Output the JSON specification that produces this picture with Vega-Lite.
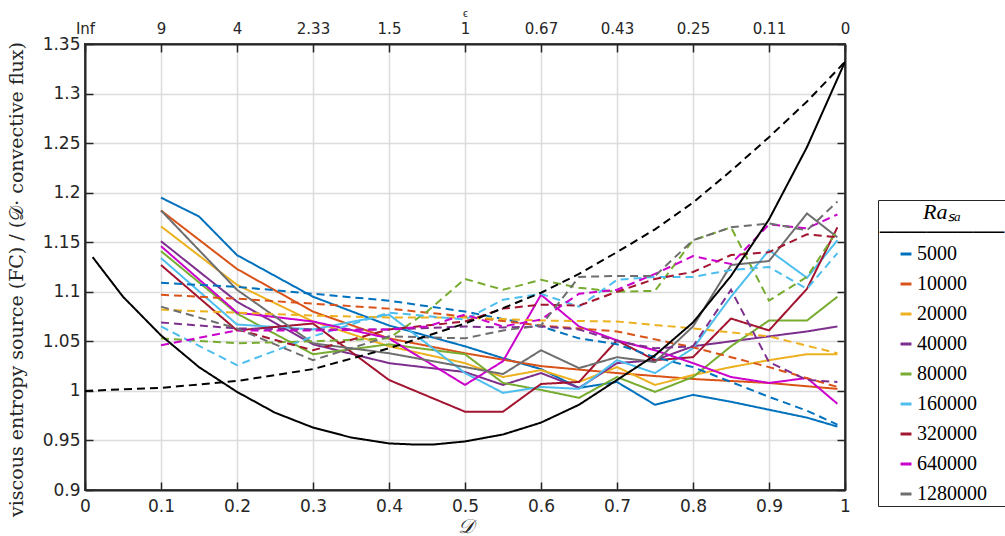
{
  "$schema": "https://vega.github.io/schema/vega-lite/v6.json",
  "width": 760,
  "height": 446,
  "autosize": {"type": "none"},
  "padding": {"left": 85, "top": 44, "right": 160, "bottom": 46},
  "background": "white",
  "config": {
    "view": {"stroke": "#262626", "strokeWidth": 2},
    "axis": {
      "domainColor": "#262626", "domainWidth": 2,
      "tickColor": "#262626", "tickWidth": 1.5, "tickSize": -8,
      "labelFont": "DejaVu Sans", "labelFontSize": 17, "labelColor": "#262626",
      "labelFlush": false, "labelOverlap": false,
      "gridColor": "#dcdcdc", "gridWidth": 1.5,
      "titleColor": "#262626", "titleFontWeight": "normal"
    }
  },
  "datasets": {
    "series": [
      {"ra":"5000","s":"solid","x":0.1,"y":1.195},{"ra":"5000","s":"solid","x":0.15,"y":1.176},{"ra":"5000","s":"solid","x":0.2,"y":1.137},{"ra":"5000","s":"solid","x":0.3,"y":1.095},{"ra":"5000","s":"solid","x":0.4,"y":1.066},{"ra":"5000","s":"solid","x":0.5,"y":1.045},{"ra":"5000","s":"solid","x":0.55,"y":1.033},{"ra":"5000","s":"solid","x":0.6,"y":1.022},{"ra":"5000","s":"solid","x":0.65,"y":1.003},{"ra":"5000","s":"solid","x":0.7,"y":1.009},{"ra":"5000","s":"solid","x":0.75,"y":0.986},{"ra":"5000","s":"solid","x":0.8,"y":0.996},{"ra":"5000","s":"solid","x":0.85,"y":0.989},{"ra":"5000","s":"solid","x":0.9,"y":0.981},{"ra":"5000","s":"solid","x":0.95,"y":0.973},{"ra":"5000","s":"solid","x":0.99,"y":0.964},
      {"ra":"10000","s":"solid","x":0.1,"y":1.182},{"ra":"10000","s":"solid","x":0.2,"y":1.123},{"ra":"10000","s":"solid","x":0.3,"y":1.08},{"ra":"10000","s":"solid","x":0.4,"y":1.053},{"ra":"10000","s":"solid","x":0.5,"y":1.038},{"ra":"10000","s":"solid","x":0.6,"y":1.025},{"ra":"10000","s":"solid","x":0.7,"y":1.018},{"ra":"10000","s":"solid","x":0.8,"y":1.012},{"ra":"10000","s":"solid","x":0.9,"y":1.008},{"ra":"10000","s":"solid","x":0.99,"y":1.002},
      {"ra":"20000","s":"solid","x":0.1,"y":1.166},{"ra":"20000","s":"solid","x":0.2,"y":1.107},{"ra":"20000","s":"solid","x":0.3,"y":1.07},{"ra":"20000","s":"solid","x":0.4,"y":1.045},{"ra":"20000","s":"solid","x":0.5,"y":1.028},{"ra":"20000","s":"solid","x":0.55,"y":1.014},{"ra":"20000","s":"solid","x":0.6,"y":1.021},{"ra":"20000","s":"solid","x":0.65,"y":1.009},{"ra":"20000","s":"solid","x":0.7,"y":1.024},{"ra":"20000","s":"solid","x":0.75,"y":1.006},{"ra":"20000","s":"solid","x":0.8,"y":1.016},{"ra":"20000","s":"solid","x":0.85,"y":1.024},{"ra":"20000","s":"solid","x":0.9,"y":1.031},{"ra":"20000","s":"solid","x":0.95,"y":1.037},{"ra":"20000","s":"solid","x":0.99,"y":1.037},
      {"ra":"40000","s":"solid","x":0.1,"y":1.151},{"ra":"40000","s":"solid","x":0.2,"y":1.09},{"ra":"40000","s":"solid","x":0.3,"y":1.047},{"ra":"40000","s":"solid","x":0.4,"y":1.028},{"ra":"40000","s":"solid","x":0.5,"y":1.019},{"ra":"40000","s":"solid","x":0.55,"y":1.006},{"ra":"40000","s":"solid","x":0.6,"y":1.018},{"ra":"40000","s":"solid","x":0.65,"y":1.003},{"ra":"40000","s":"solid","x":0.7,"y":1.028},{"ra":"40000","s":"solid","x":0.75,"y":1.031},{"ra":"40000","s":"solid","x":0.8,"y":1.045},{"ra":"40000","s":"solid","x":0.85,"y":1.05},{"ra":"40000","s":"solid","x":0.9,"y":1.055},{"ra":"40000","s":"solid","x":0.95,"y":1.06},{"ra":"40000","s":"solid","x":0.99,"y":1.065},
      {"ra":"80000","s":"solid","x":0.1,"y":1.141},{"ra":"80000","s":"solid","x":0.2,"y":1.078},{"ra":"80000","s":"solid","x":0.3,"y":1.037},{"ra":"80000","s":"solid","x":0.4,"y":1.047},{"ra":"80000","s":"solid","x":0.5,"y":1.037},{"ra":"80000","s":"solid","x":0.55,"y":1.008},{"ra":"80000","s":"solid","x":0.6,"y":1.001},{"ra":"80000","s":"solid","x":0.65,"y":0.993},{"ra":"80000","s":"solid","x":0.7,"y":1.014},{"ra":"80000","s":"solid","x":0.75,"y":0.999},{"ra":"80000","s":"solid","x":0.8,"y":1.014},{"ra":"80000","s":"solid","x":0.85,"y":1.045},{"ra":"80000","s":"solid","x":0.9,"y":1.071},{"ra":"80000","s":"solid","x":0.95,"y":1.071},{"ra":"80000","s":"solid","x":0.99,"y":1.095},
      {"ra":"160000","s":"solid","x":0.1,"y":1.134},{"ra":"160000","s":"solid","x":0.2,"y":1.067},{"ra":"160000","s":"solid","x":0.3,"y":1.062},{"ra":"160000","s":"solid","x":0.4,"y":1.077},{"ra":"160000","s":"solid","x":0.5,"y":1.018},{"ra":"160000","s":"solid","x":0.55,"y":0.998},{"ra":"160000","s":"solid","x":0.6,"y":1.004},{"ra":"160000","s":"solid","x":0.65,"y":1.002},{"ra":"160000","s":"solid","x":0.7,"y":1.031},{"ra":"160000","s":"solid","x":0.75,"y":1.018},{"ra":"160000","s":"solid","x":0.8,"y":1.043},{"ra":"160000","s":"solid","x":0.85,"y":1.095},{"ra":"160000","s":"solid","x":0.9,"y":1.142},{"ra":"160000","s":"solid","x":0.95,"y":1.114},{"ra":"160000","s":"solid","x":0.99,"y":1.152},
      {"ra":"320000","s":"solid","x":0.1,"y":1.127},{"ra":"320000","s":"solid","x":0.2,"y":1.061},{"ra":"320000","s":"solid","x":0.3,"y":1.068},{"ra":"320000","s":"solid","x":0.4,"y":1.011},{"ra":"320000","s":"solid","x":0.5,"y":0.979},{"ra":"320000","s":"solid","x":0.55,"y":0.979},{"ra":"320000","s":"solid","x":0.6,"y":1.007},{"ra":"320000","s":"solid","x":0.65,"y":1.009},{"ra":"320000","s":"solid","x":0.7,"y":1.051},{"ra":"320000","s":"solid","x":0.75,"y":1.031},{"ra":"320000","s":"solid","x":0.8,"y":1.034},{"ra":"320000","s":"solid","x":0.85,"y":1.073},{"ra":"320000","s":"solid","x":0.9,"y":1.061},{"ra":"320000","s":"solid","x":0.95,"y":1.103},{"ra":"320000","s":"solid","x":0.99,"y":1.165},
      {"ra":"640000","s":"solid","x":0.1,"y":1.146},{"ra":"640000","s":"solid","x":0.2,"y":1.079},{"ra":"640000","s":"solid","x":0.3,"y":1.07},{"ra":"640000","s":"solid","x":0.4,"y":1.053},{"ra":"640000","s":"solid","x":0.5,"y":1.006},{"ra":"640000","s":"solid","x":0.55,"y":1.03},{"ra":"640000","s":"solid","x":0.6,"y":1.097},{"ra":"640000","s":"solid","x":0.65,"y":1.065},{"ra":"640000","s":"solid","x":0.7,"y":1.051},{"ra":"640000","s":"solid","x":0.75,"y":1.041},{"ra":"640000","s":"solid","x":0.8,"y":1.028},{"ra":"640000","s":"solid","x":0.85,"y":1.014},{"ra":"640000","s":"solid","x":0.9,"y":1.008},{"ra":"640000","s":"solid","x":0.95,"y":1.013},{"ra":"640000","s":"solid","x":0.99,"y":0.987},
      {"ra":"1280000","s":"solid","x":0.1,"y":1.182},{"ra":"1280000","s":"solid","x":0.2,"y":1.102},{"ra":"1280000","s":"solid","x":0.3,"y":1.048},{"ra":"1280000","s":"solid","x":0.4,"y":1.038},{"ra":"1280000","s":"solid","x":0.5,"y":1.024},{"ra":"1280000","s":"solid","x":0.55,"y":1.017},{"ra":"1280000","s":"solid","x":0.6,"y":1.041},{"ra":"1280000","s":"solid","x":0.65,"y":1.023},{"ra":"1280000","s":"solid","x":0.7,"y":1.034},{"ra":"1280000","s":"solid","x":0.75,"y":1.029},{"ra":"1280000","s":"solid","x":0.8,"y":1.065},{"ra":"1280000","s":"solid","x":0.85,"y":1.127},{"ra":"1280000","s":"solid","x":0.9,"y":1.131},{"ra":"1280000","s":"solid","x":0.95,"y":1.179},{"ra":"1280000","s":"solid","x":0.99,"y":1.155},
      {"ra":"5000","s":"dashed","x":0.1,"y":1.109},{"ra":"5000","s":"dashed","x":0.2,"y":1.105},{"ra":"5000","s":"dashed","x":0.3,"y":1.098},{"ra":"5000","s":"dashed","x":0.4,"y":1.091},{"ra":"5000","s":"dashed","x":0.5,"y":1.08},{"ra":"5000","s":"dashed","x":0.6,"y":1.065},{"ra":"5000","s":"dashed","x":0.65,"y":1.053},{"ra":"5000","s":"dashed","x":0.7,"y":1.047},{"ra":"5000","s":"dashed","x":0.75,"y":1.034},{"ra":"5000","s":"dashed","x":0.8,"y":1.024},{"ra":"5000","s":"dashed","x":0.85,"y":1.009},{"ra":"5000","s":"dashed","x":0.9,"y":0.994},{"ra":"5000","s":"dashed","x":0.95,"y":0.98},{"ra":"5000","s":"dashed","x":0.99,"y":0.966},
      {"ra":"10000","s":"dashed","x":0.1,"y":1.097},{"ra":"10000","s":"dashed","x":0.2,"y":1.093},{"ra":"10000","s":"dashed","x":0.3,"y":1.088},{"ra":"10000","s":"dashed","x":0.4,"y":1.083},{"ra":"10000","s":"dashed","x":0.5,"y":1.075},{"ra":"10000","s":"dashed","x":0.6,"y":1.066},{"ra":"10000","s":"dashed","x":0.7,"y":1.06},{"ra":"10000","s":"dashed","x":0.8,"y":1.044},{"ra":"10000","s":"dashed","x":0.85,"y":1.034},{"ra":"10000","s":"dashed","x":0.9,"y":1.024},{"ra":"10000","s":"dashed","x":0.99,"y":1.004},
      {"ra":"20000","s":"dashed","x":0.1,"y":1.082},{"ra":"20000","s":"dashed","x":0.2,"y":1.079},{"ra":"20000","s":"dashed","x":0.3,"y":1.076},{"ra":"20000","s":"dashed","x":0.4,"y":1.074},{"ra":"20000","s":"dashed","x":0.5,"y":1.074},{"ra":"20000","s":"dashed","x":0.6,"y":1.071},{"ra":"20000","s":"dashed","x":0.7,"y":1.07},{"ra":"20000","s":"dashed","x":0.8,"y":1.063},{"ra":"20000","s":"dashed","x":0.9,"y":1.055},{"ra":"20000","s":"dashed","x":0.99,"y":1.038},
      {"ra":"40000","s":"dashed","x":0.1,"y":1.069},{"ra":"40000","s":"dashed","x":0.2,"y":1.063},{"ra":"40000","s":"dashed","x":0.3,"y":1.062},{"ra":"40000","s":"dashed","x":0.4,"y":1.062},{"ra":"40000","s":"dashed","x":0.5,"y":1.065},{"ra":"40000","s":"dashed","x":0.55,"y":1.064},{"ra":"40000","s":"dashed","x":0.6,"y":1.065},{"ra":"40000","s":"dashed","x":0.65,"y":1.062},{"ra":"40000","s":"dashed","x":0.7,"y":1.05},{"ra":"40000","s":"dashed","x":0.75,"y":1.043},{"ra":"40000","s":"dashed","x":0.8,"y":1.045},{"ra":"40000","s":"dashed","x":0.85,"y":1.102},{"ra":"40000","s":"dashed","x":0.9,"y":1.029},{"ra":"40000","s":"dashed","x":0.95,"y":1.011},{"ra":"40000","s":"dashed","x":0.99,"y":1.009},
      {"ra":"80000","s":"dashed","x":0.1,"y":1.053},{"ra":"80000","s":"dashed","x":0.2,"y":1.048},{"ra":"80000","s":"dashed","x":0.3,"y":1.05},{"ra":"80000","s":"dashed","x":0.4,"y":1.053},{"ra":"80000","s":"dashed","x":0.45,"y":1.08},{"ra":"80000","s":"dashed","x":0.5,"y":1.113},{"ra":"80000","s":"dashed","x":0.55,"y":1.102},{"ra":"80000","s":"dashed","x":0.6,"y":1.112},{"ra":"80000","s":"dashed","x":0.65,"y":1.104},{"ra":"80000","s":"dashed","x":0.7,"y":1.1},{"ra":"80000","s":"dashed","x":0.75,"y":1.101},{"ra":"80000","s":"dashed","x":0.8,"y":1.152},{"ra":"80000","s":"dashed","x":0.85,"y":1.165},{"ra":"80000","s":"dashed","x":0.9,"y":1.091},{"ra":"80000","s":"dashed","x":0.95,"y":1.115},{"ra":"80000","s":"dashed","x":0.99,"y":1.162},
      {"ra":"160000","s":"dashed","x":0.1,"y":1.065},{"ra":"160000","s":"dashed","x":0.2,"y":1.026},{"ra":"160000","s":"dashed","x":0.3,"y":1.055},{"ra":"160000","s":"dashed","x":0.4,"y":1.079},{"ra":"160000","s":"dashed","x":0.5,"y":1.072},{"ra":"160000","s":"dashed","x":0.55,"y":1.092},{"ra":"160000","s":"dashed","x":0.6,"y":1.098},{"ra":"160000","s":"dashed","x":0.65,"y":1.085},{"ra":"160000","s":"dashed","x":0.7,"y":1.112},{"ra":"160000","s":"dashed","x":0.75,"y":1.115},{"ra":"160000","s":"dashed","x":0.8,"y":1.115},{"ra":"160000","s":"dashed","x":0.85,"y":1.122},{"ra":"160000","s":"dashed","x":0.9,"y":1.125},{"ra":"160000","s":"dashed","x":0.95,"y":1.103},{"ra":"160000","s":"dashed","x":0.99,"y":1.139},
      {"ra":"320000","s":"dashed","x":0.2,"y":1.062},{"ra":"320000","s":"dashed","x":0.3,"y":1.041},{"ra":"320000","s":"dashed","x":0.4,"y":1.062},{"ra":"320000","s":"dashed","x":0.5,"y":1.07},{"ra":"320000","s":"dashed","x":0.55,"y":1.083},{"ra":"320000","s":"dashed","x":0.6,"y":1.087},{"ra":"320000","s":"dashed","x":0.65,"y":1.086},{"ra":"320000","s":"dashed","x":0.7,"y":1.1},{"ra":"320000","s":"dashed","x":0.75,"y":1.113},{"ra":"320000","s":"dashed","x":0.8,"y":1.12},{"ra":"320000","s":"dashed","x":0.85,"y":1.137},{"ra":"320000","s":"dashed","x":0.9,"y":1.14},{"ra":"320000","s":"dashed","x":0.95,"y":1.158},{"ra":"320000","s":"dashed","x":0.99,"y":1.155},
      {"ra":"640000","s":"dashed","x":0.1,"y":1.046},{"ra":"640000","s":"dashed","x":0.2,"y":1.061},{"ra":"640000","s":"dashed","x":0.3,"y":1.061},{"ra":"640000","s":"dashed","x":0.4,"y":1.062},{"ra":"640000","s":"dashed","x":0.45,"y":1.065},{"ra":"640000","s":"dashed","x":0.5,"y":1.077},{"ra":"640000","s":"dashed","x":0.55,"y":1.065},{"ra":"640000","s":"dashed","x":0.6,"y":1.072},{"ra":"640000","s":"dashed","x":0.65,"y":1.098},{"ra":"640000","s":"dashed","x":0.7,"y":1.102},{"ra":"640000","s":"dashed","x":0.75,"y":1.118},{"ra":"640000","s":"dashed","x":0.8,"y":1.136},{"ra":"640000","s":"dashed","x":0.85,"y":1.128},{"ra":"640000","s":"dashed","x":0.9,"y":1.168},{"ra":"640000","s":"dashed","x":0.95,"y":1.164},{"ra":"640000","s":"dashed","x":0.99,"y":1.178},
      {"ra":"1280000","s":"dashed","x":0.1,"y":1.085},{"ra":"1280000","s":"dashed","x":0.2,"y":1.063},{"ra":"1280000","s":"dashed","x":0.3,"y":1.031},{"ra":"1280000","s":"dashed","x":0.4,"y":1.055},{"ra":"1280000","s":"dashed","x":0.5,"y":1.053},{"ra":"1280000","s":"dashed","x":0.55,"y":1.061},{"ra":"1280000","s":"dashed","x":0.6,"y":1.066},{"ra":"1280000","s":"dashed","x":0.65,"y":1.115},{"ra":"1280000","s":"dashed","x":0.7,"y":1.116},{"ra":"1280000","s":"dashed","x":0.75,"y":1.116},{"ra":"1280000","s":"dashed","x":0.8,"y":1.152},{"ra":"1280000","s":"dashed","x":0.85,"y":1.165},{"ra":"1280000","s":"dashed","x":0.9,"y":1.169},{"ra":"1280000","s":"dashed","x":0.95,"y":1.162},{"ra":"1280000","s":"dashed","x":0.99,"y":1.191}
    ],
    "curves": [
      {"s":"solid","x":0.01,"y":1.135},{"s":"solid","x":0.05,"y":1.095},{"s":"solid","x":0.1,"y":1.056},{"s":"solid","x":0.15,"y":1.024},{"s":"solid","x":0.2,"y":0.999},{"s":"solid","x":0.25,"y":0.978},{"s":"solid","x":0.3,"y":0.963},{"s":"solid","x":0.35,"y":0.953},{"s":"solid","x":0.4,"y":0.947},{"s":"solid","x":0.43,"y":0.946},{"s":"solid","x":0.46,"y":0.946},{"s":"solid","x":0.5,"y":0.949},{"s":"solid","x":0.55,"y":0.956},{"s":"solid","x":0.6,"y":0.968},{"s":"solid","x":0.65,"y":0.986},{"s":"solid","x":0.7,"y":1.011},{"s":"solid","x":0.75,"y":1.036},{"s":"solid","x":0.8,"y":1.069},{"s":"solid","x":0.85,"y":1.116},{"s":"solid","x":0.9,"y":1.173},{"s":"solid","x":0.95,"y":1.246},{"s":"solid","x":1.0,"y":1.332},
      {"s":"dashed","x":0.0,"y":1.0},{"s":"dashed","x":0.1,"y":1.003},{"s":"dashed","x":0.2,"y":1.01},{"s":"dashed","x":0.3,"y":1.022},{"s":"dashed","x":0.4,"y":1.043},{"s":"dashed","x":0.5,"y":1.068},{"s":"dashed","x":0.6,"y":1.099},{"s":"dashed","x":0.65,"y":1.118},{"s":"dashed","x":0.7,"y":1.14},{"s":"dashed","x":0.75,"y":1.163},{"s":"dashed","x":0.8,"y":1.19},{"s":"dashed","x":0.85,"y":1.222},{"s":"dashed","x":0.9,"y":1.256},{"s":"dashed","x":0.95,"y":1.292},{"s":"dashed","x":1.0,"y":1.332}
    ]
  },
  "layer": [
    {
      "data": {"name": "series"},
      "mark": {"type": "line", "strokeWidth": 2, "clip": true},
      "encoding": {
        "x": {
          "field": "x", "type": "quantitative",
          "scale": {"domain": [0, 1], "nice": false, "zero": false},
          "axis": {
            "orient": "bottom",
            "values": [0, 0.1, 0.2, 0.3, 0.4, 0.5, 0.6, 0.7, 0.8, 0.9, 1],
            "format": "~g", "grid": true, "labelPadding": 16,
            "title": "𝒟", "titleFont": "DejaVu Serif", "titleFontStyle": "italic", "titleFontSize": 20, "titlePadding": 2
          }
        },
        "y": {
          "field": "y", "type": "quantitative",
          "scale": {"domain": [0.9, 1.35], "nice": false, "zero": false},
          "axis": {
            "orient": "left",
            "values": [0.9, 0.95, 1, 1.05, 1.1, 1.15, 1.2, 1.25, 1.3, 1.35],
            "format": "~g", "grid": true, "labelPadding": 13,
            "title": "viscous entropy source (FC) / (𝒟· convective flux)",
            "titleFont": "DejaVu Serif", "titleFontSize": 19,
            "titleX": -69, "titleY": 235, "titleAngle": 270, "titleAlign": "center", "titleBaseline": "middle"
          }
        },
        "color": {
          "field": "ra", "type": "nominal",
          "scale": {
            "domain": ["5000", "10000", "20000", "40000", "80000", "160000", "320000", "640000", "1280000"],
            "range": ["#0072BD", "#D95319", "#EDB120", "#7E2F8E", "#77AC30", "#4DBEEE", "#A2142F", "#CC00CC", "#6E6E6E"]
          },
          "legend": {
            "title": ["Raₛₐ", "────────"],
            "orient": "none", "legendX": 793, "legendY": 156,
            "strokeColor": "#262626", "fillColor": "white", "padding": 2,
            "symbolType": "stroke", "symbolSize": 120, "symbolStrokeWidth": 3,
            "labelFont": "Liberation Serif", "labelFontSize": 20, "labelColor": "black", "labelOffset": 1,
            "titleFont": "Liberation Serif", "titleFontSize": 22, "titleFontStyle": "italic", "titleFontWeight": "normal", "titleColor": "black",
            "titleAnchor": "middle", "titleAlign": "center", "titleLineHeight": 20, "titlePadding": 0,
            "rowPadding": 10
          }
        },
        "strokeDash": {
          "field": "s", "type": "nominal",
          "scale": {"domain": ["solid", "dashed"], "range": [[1, 0], [8, 5]]},
          "legend": null
        }
      }
    },
    {
      "data": {"name": "curves"},
      "mark": {"type": "line", "strokeWidth": 2, "color": "black", "clip": true},
      "encoding": {
        "x": {
          "field": "x", "type": "quantitative",
          "axis": {
            "orient": "top",
            "values": [0, 0.1, 0.2, 0.3, 0.4, 0.5, 0.6, 0.7, 0.8, 0.9, 1],
            "labelExpr": "datum.value == 0 ? 'Inf' : format((1 - datum.value) / datum.value, '.2~f')",
            "labelFontSize": 15, "labelPadding": 16, "grid": false,
            "title": "ϵ", "titleFontSize": 11, "titlePadding": 3
          }
        },
        "y": {
          "field": "y", "type": "quantitative",
          "axis": {
            "orient": "right",
            "values": [0.9, 0.95, 1, 1.05, 1.1, 1.15, 1.2, 1.25, 1.3, 1.35],
            "labels": false, "grid": false, "title": null
          }
        },
        "strokeDash": {
          "field": "s", "type": "nominal",
          "legend": null
        }
      }
    }
  ],
  "resolve": {"axis": {"x": "independent", "y": "independent"}}
}
